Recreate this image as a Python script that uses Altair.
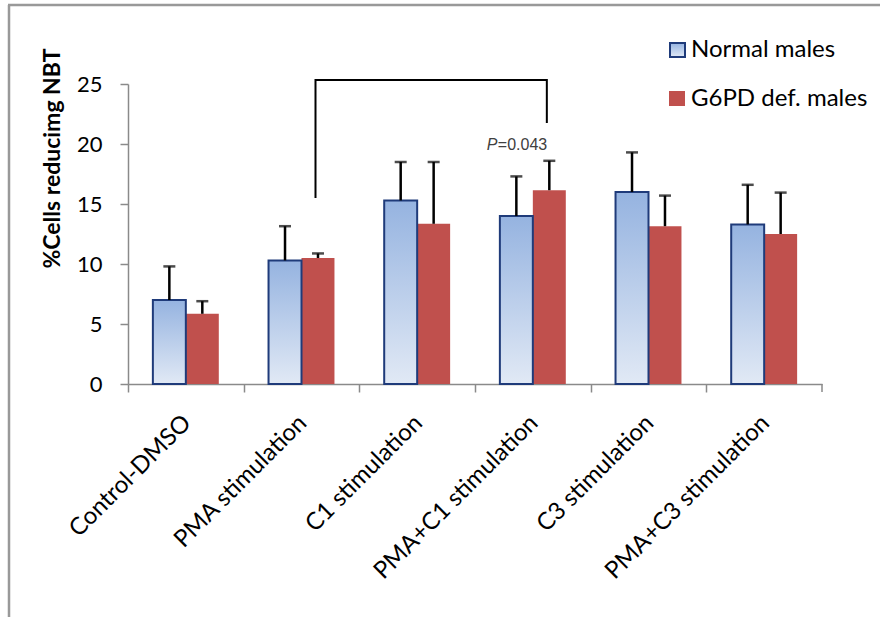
import altair as alt
import pandas as pd

categories = ["Control-DMSO", "PMA stimulation", "C1 stimulation",
              "PMA+C1 stimulation", "C3 stimulation", "PMA+C3 stimulation"]
series = ["Normal males", "G6PD def. males"]
normal_mean = [7.0, 10.3, 15.3, 14.0, 16.0, 13.3]
normal_sd = [2.8, 2.85, 3.2, 3.3, 3.3, 3.3]
g6pd_mean = [5.85, 10.5, 13.35, 16.15, 13.15, 12.5]
g6pd_sd = [1.05, 0.38, 5.15, 2.45, 2.55, 3.45]
y_ticks = [0, 5, 10, 15, 20, 25]

bracket_cat = ["PMA stimulation", "PMA stimulation", "PMA+C1 stimulation", "PMA+C1 stimulation"]
bracket_y = [15.5, 25.33, 25.33, 21.75]
bracket_order = [0, 1, 2, 3]
p_cat = ["PMA+C1 stimulation"]
p_y = [19.9]

FONT = "Lato"
GRAY = "#8a8a8a"
BLUE_STROKE = "#1F3B7A"
RED = "#C0504D"

rows = []
for c, m, s in zip(categories, normal_mean, normal_sd):
    rows.append({"cat": c, "series": series[0], "mean": m, "top": m + s})
for c, m, s in zip(categories, g6pd_mean, g6pd_sd):
    rows.append({"cat": c, "series": series[1], "mean": m, "top": m + s})
df = pd.DataFrame(rows)

bracket_df = pd.DataFrame({"cat": bracket_cat, "mean": bracket_y, "order": bracket_order})
p_df = pd.DataFrame({"cat": p_cat, "mean": p_y})
one = pd.DataFrame({"a": [0]})

W, H = 694, 300
half_step = W / 6 / 2

x_enc = alt.X(
    "cat:N", sort=categories,
    scale=alt.Scale(domain=categories, paddingInner=0.43, paddingOuter=0.215),
    axis=alt.Axis(title=None, labelAngle=-45, labelAlign="right", labelBaseline="middle",
                  labelFont=FONT, labelFontSize=24, labelColor="#000", labelLimit=400,
                  tickOffset=-half_step, labelOffset=half_step + 1, labelPadding=27,
                  tickSize=8, tickColor=GRAY, tickWidth=1.5,
                  domainColor=GRAY, domainWidth=1.5, grid=False),
)
y_axis = alt.Axis(values=y_ticks, title="%Cells reducimg NBT", titleFont=FONT,
                  titleFontSize=23, titleFontWeight="bold", titleColor="#000",
                  titleAngle=-90, titleX=-76, titleY=74, titleAlign="center",
                  titleBaseline="middle", labelFont=FONT, labelFontSize=22,
                  labelColor="#000", labelPadding=18, tickSize=8, tickColor=GRAY,
                  tickWidth=1.5, domainColor=GRAY, domainWidth=1.5, grid=False)
y_scale = alt.Scale(domain=[0, 25], nice=False)
xo = alt.XOffset("series:N", scale=alt.Scale(domain=series, paddingInner=0, paddingOuter=0))

gradient = alt.Gradient(
    gradient="linear",
    stops=[alt.GradientStop(color="#95B3E0", offset=0),
           alt.GradientStop(color="#E1E9F5", offset=1)],
    x1=0, x2=0, y1=0, y2=1,
)

base = alt.Chart(df)

red_bars = base.transform_filter(alt.datum.series == series[1]).mark_bar(color=RED).encode(
    x=x_enc, xOffset=xo, y=alt.Y("mean:Q", scale=y_scale, axis=y_axis))
blue_bars = base.transform_filter(alt.datum.series == series[0]).mark_bar(
    fill=gradient, stroke=BLUE_STROKE, strokeWidth=2).encode(
    x=x_enc, xOffset=xo, y=alt.Y("mean:Q", scale=y_scale, axis=y_axis))
err_rules = base.mark_rule(color="#000", strokeWidth=2.5).encode(
    x=x_enc, xOffset=xo, y=alt.Y("mean:Q", scale=y_scale, axis=y_axis), y2="top:Q")
err_caps = base.mark_tick(color="#000", size=12, thickness=2.5).encode(
    x=x_enc, xOffset=xo, y=alt.Y("top:Q", scale=y_scale, axis=y_axis))

bracket = alt.Chart(bracket_df).mark_line(color="#000", strokeWidth=2, xOffset=14).encode(
    x=x_enc, y=alt.Y("mean:Q", scale=y_scale, axis=y_axis), order="order:Q")

p_italic = alt.Chart(p_df).mark_text(text="P", font="Liberation Sans", fontSize=16,
                                      fontStyle="italic", color="#404040", align="left",
                                      baseline="middle", dx=-46).encode(
    x=x_enc, y=alt.Y("mean:Q", scale=y_scale, axis=y_axis))
p_value = alt.Chart(p_df).mark_text(text="=0.043", font="Liberation Sans", fontSize=16,
                                     color="#404040", align="left", baseline="middle",
                                     dx=-35).encode(
    x=x_enc, y=alt.Y("mean:Q", scale=y_scale, axis=y_axis))

last_tick = alt.Chart(one).mark_rule(color=GRAY, strokeWidth=1.5).encode(
    x=alt.value(W), y=alt.value(H), y2=alt.value(H + 8))

frame_left = alt.Chart(one).mark_rule(color="#999999", strokeWidth=2.5).encode(
    x=alt.value(-119), y=alt.value(-79), y2=alt.value(540))
frame_top = alt.Chart(one).mark_rule(color="#999999", strokeWidth=2.5).encode(
    x=alt.value(-120), x2=alt.value(760), y=alt.value(-79))

leg_blue = alt.Chart(one).mark_rect(fill=gradient, stroke=BLUE_STROKE, strokeWidth=2).encode(
    x=alt.value(542), x2=alt.value(557), y=alt.value(-41), y2=alt.value(-27))
leg_red = alt.Chart(one).mark_rect(color=RED).encode(
    x=alt.value(541), x2=alt.value(557), y=alt.value(7), y2=alt.value(22))
leg_t1 = alt.Chart(one).mark_text(text=series[0], font=FONT, fontSize=24, color="#000",
                                   align="left", baseline="middle").encode(
    x=alt.value(563), y=alt.value(-34))
leg_t2 = alt.Chart(one).mark_text(text=series[1], font=FONT, fontSize=24, color="#000",
                                   align="left", baseline="middle").encode(
    x=alt.value(563), y=alt.value(14.5))

chart = alt.layer(
    red_bars, blue_bars, err_rules, err_caps, bracket, p_italic, p_value,
    last_tick, frame_left, frame_top, leg_blue, leg_red, leg_t1, leg_t2,
).properties(
    width=W, height=H,
    autosize=alt.AutoSizeParams(type="none"),
    padding={"left": 128, "top": 84, "right": 58, "bottom": 233},
    background="white",
).configure_view(stroke=None)

chart.save("out.html", embed_options={"renderer": "svg", "actions": False})
